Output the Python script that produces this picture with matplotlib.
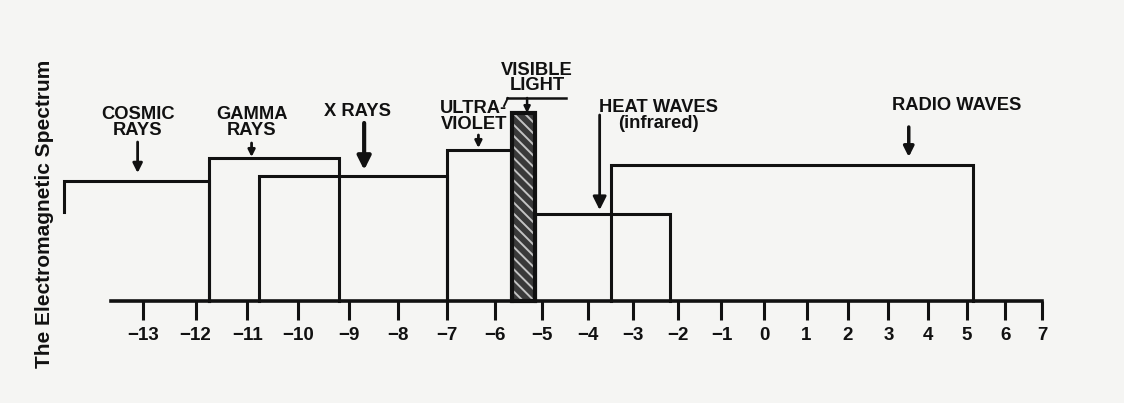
import numpy as np
import matplotlib
matplotlib.use("Agg")
import matplotlib.pyplot as plt

plt.rcParams["font.family"] = ["Liberation Sans", "DejaVu Sans"]
plt.rcParams["font.weight"] = "bold"
plt.rcParams["hatch.linewidth"] = 1.4

BG = "#f5f5f3"
INK = "#111111"

# axis values (exponent), as printed under the line
tick_values = list(range(-13, 8))
tick_labels = [f"\u2212{abs(v)}" if v < 0 else str(v) for v in tick_values]
axis_start, axis_end = -13.6, 7

# bands
band_names = ["COSMIC\nRAYS", "GAMMA\nRAYS", "X RAYS", "ULTRA-\nVIOLET",
              "VISIBLE\nLIGHT", "HEAT WAVES\n(infrared)", "RADIO WAVES"]
band_left = [-14.47, -11.74, -10.78, -7.0, -5.63, -5.14, -3.5]
band_right = [-11.74, -9.2, -7.0, -5.63, -5.14, -2.17, 5.15]
band_top = [1.20, 1.43, 1.25, 1.51, 1.88, 0.87, 1.36]
left_floor = [0.89, 0, 0, 0, 0, 0, 0]   # cosmic box only shows a stub on the left

# label placement: text x, text y, arrow tail y, arrow tip y, arrow x, head size, arrow lw
label_layout = [
    (-13.10, 1.785, 1.59, 1.28, -13.10, 14, 2.0),
    (-10.92, 1.785, 1.58, 1.44, -10.92, 10, 2.0),
    (-8.83, 1.89, 1.78, 1.31, -8.69, 20, 3.0),
    (-6.44, 1.845, 1.66, 1.53, -6.34, 10, 2.0),
    (-5.10, 2.23, 2.03, 1.88, -5.31, 9, 1.8),
    (-2.44, 1.855, 1.86, 0.91, -3.74, 20, 2.0),
    (4.74, 1.95, 1.74, 1.44, 3.51, 15, 2.5),
]

# the hand drawn axis is squeezed towards the right
K = 0.00763


def squeeze(v):
    u = np.asarray(v, dtype=float) + 13
    return u - K * u ** 2


def unsqueeze(w):
    w = np.asarray(w, dtype=float)
    return (1 - np.sqrt(np.clip(1 - 4 * K * w, 0, None))) / (2 * K) - 13


fig = plt.figure(figsize=(11.24, 4.03), dpi=100, facecolor=BG)
ax = fig.add_axes([0, 0, 1, 1])
ax.set_facecolor(BG)
ax.set_xscale("function", functions=(squeeze, unsqueeze))
ax.set_xlim(-15.64, 9.27)
ax.set_ylim(-1.02, 3.01)

for s in ["top", "right", "left"]:
    ax.spines[s].set_visible(False)
ax.spines["bottom"].set_position(("data", 0))
ax.spines["bottom"].set_bounds(axis_start, axis_end)
ax.spines["bottom"].set_linewidth(2.6)
ax.spines["bottom"].set_color(INK)

ax.set_yticks([])
ax.set_xticks(tick_values, tick_labels)
ax.tick_params(axis="x", direction="out", length=14, width=2.2, pad=5,
               labelsize=13.5, color=INK, labelcolor=INK)

for i, name in enumerate(band_names):
    l, r, t = band_left[i], band_right[i], band_top[i]
    if name.startswith("VISIBLE"):
        # dark fill, pale diagonal stripes, heavy outline
        ax.bar(l, t, width=r - l, align="edge", facecolor="#3a3a3a",
               edgecolor="#c4c4c4", hatch="\\\\\\", linewidth=0, zorder=2)
        ax.bar(l, t, width=r - l, align="edge", facecolor="none",
               edgecolor=INK, linewidth=3, zorder=3)
    else:
        ax.plot([l, l, r, r], [left_floor[i], t, t, 0], color=INK, lw=2.2,
                solid_joinstyle="miter", zorder=3)

for name, (tx, ty, y0, y1, axx, hs, alw) in zip(band_names, label_layout):
    ax.text(tx, ty, name, ha="center", va="center", fontsize=13.2,
            linespacing=0.9, color=INK)
    ax.annotate("", xy=(axx, y1), xytext=(axx, y0),
                arrowprops=dict(arrowstyle="-|>", color=INK, lw=alw,
                                mutation_scale=hs, shrinkA=0, shrinkB=0))

# underline below LIGHT and the little joining stroke
ax.plot([-5.73, -4.47], [2.03, 2.03], color=INK, lw=1.8)
ax.plot([-5.80, -5.72], [1.95, 2.03], color=INK, lw=1.4)

fig.text(45 / 1124, 1 - 213.5 / 403, "The Electromagnetic Spectrum",
         rotation=90, ha="center", va="center", fontsize=15, color=INK)

fig.savefig("out.png", dpi=100, facecolor=BG)
